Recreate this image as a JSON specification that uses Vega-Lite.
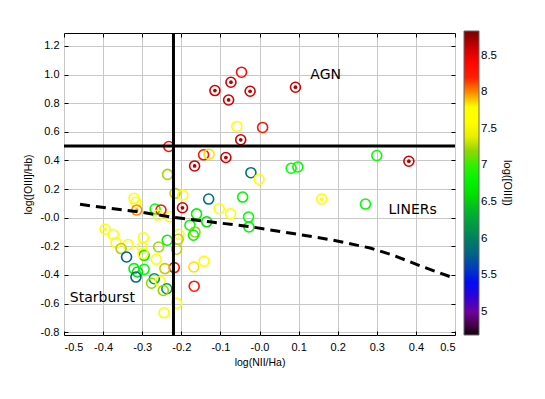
{
  "$schema": "https://vega.github.io/schema/vega-lite/v6.json",
  "width": 391,
  "height": 302,
  "autosize": "none",
  "padding": {"left": 64, "top": 33, "right": 90, "bottom": 64},
  "background": "white",
  "config": {
    "view": {"stroke": "black", "strokeWidth": 1},
    "axis": {
      "labelFont": "Liberation Sans",
      "labelFontSize": 11,
      "labelColor": "black",
      "titleFont": "Liberation Sans",
      "titleFontSize": 10.5,
      "titleFontWeight": "normal",
      "titleColor": "black",
      "gridColor": "#c8c8c8",
      "gridWidth": 1,
      "gridOpacity": 1,
      "tickColor": "black",
      "domain": false
    }
  },
  "datasets": {
    "pts": [
      {"x": -0.046, "y": 1.016, "o3": 8.35, "dot": false},
      {"x": -0.073, "y": 0.946, "o3": 8.6, "dot": true},
      {"x": -0.114, "y": 0.888, "o3": 8.6, "dot": true},
      {"x": -0.024, "y": 0.883, "o3": 8.6, "dot": true},
      {"x": -0.079, "y": 0.822, "o3": 8.6, "dot": true},
      {"x": 0.092, "y": 0.911, "o3": 8.6, "dot": true},
      {"x": -0.058, "y": 0.637, "o3": 7.6, "dot": false},
      {"x": 0.008, "y": 0.63, "o3": 8.3, "dot": false},
      {"x": -0.048, "y": 0.544, "o3": 8.6, "dot": true},
      {"x": -0.232, "y": 0.497, "o3": 8.35, "dot": false},
      {"x": -0.143, "y": 0.439, "o3": 8.3, "dot": false},
      {"x": -0.129, "y": 0.443, "o3": 7.85, "dot": false},
      {"x": -0.086, "y": 0.42, "o3": 8.6, "dot": true},
      {"x": -0.166, "y": 0.361, "o3": 8.6, "dot": true},
      {"x": -0.235, "y": 0.302, "o3": 7.25, "dot": false},
      {"x": -0.022, "y": 0.314, "o3": 5.9, "dot": false},
      {"x": -0.001, "y": 0.268, "o3": 7.6, "dot": false},
      {"x": 0.081, "y": 0.345, "o3": 6.9, "dot": false},
      {"x": 0.098, "y": 0.354, "o3": 6.9, "dot": false},
      {"x": -0.216, "y": 0.17, "o3": 7.3, "dot": false},
      {"x": -0.196, "y": 0.158, "o3": 7.6, "dot": false},
      {"x": -0.13, "y": 0.13, "o3": 5.9, "dot": false},
      {"x": -0.043, "y": 0.144, "o3": 6.8, "dot": false},
      {"x": -0.103, "y": 0.062, "o3": 7.6, "dot": false},
      {"x": -0.074, "y": 0.026, "o3": 7.6, "dot": false},
      {"x": -0.197, "y": 0.069, "o3": 8.6, "dot": true},
      {"x": -0.161, "y": 0.026, "o3": 6.8, "dot": false},
      {"x": -0.028, "y": 0.004, "o3": 6.9, "dot": false},
      {"x": -0.027, "y": -0.065, "o3": 6.8, "dot": false},
      {"x": -0.135, "y": -0.029, "o3": 6.6, "dot": false},
      {"x": -0.178, "y": -0.053, "o3": 6.9, "dot": false},
      {"x": -0.165, "y": -0.1, "o3": 7.2, "dot": false},
      {"x": -0.229, "y": 0.006, "o3": 7.6, "dot": false},
      {"x": -0.206, "y": -0.116, "o3": 7.6, "dot": false},
      {"x": -0.208, "y": -0.151, "o3": 7.3, "dot": false},
      {"x": -0.321, "y": 0.135, "o3": 7.65, "dot": false},
      {"x": -0.316, "y": 0.107, "o3": 7.6, "dot": false},
      {"x": -0.314, "y": 0.053, "o3": 8.0, "dot": true},
      {"x": -0.267, "y": 0.06, "o3": 6.9, "dot": false},
      {"x": -0.252, "y": 0.053, "o3": 8.3, "dot": false},
      {"x": -0.26, "y": 0.018, "o3": 7.6, "dot": false},
      {"x": -0.395, "y": -0.081, "o3": 7.6, "dot": true},
      {"x": -0.374, "y": -0.118, "o3": 7.6, "dot": false},
      {"x": -0.367, "y": -0.174, "o3": 7.6, "dot": false},
      {"x": -0.336, "y": -0.188, "o3": 7.6, "dot": false},
      {"x": -0.354, "y": -0.216, "o3": 7.3, "dot": false},
      {"x": -0.297, "y": -0.139, "o3": 7.6, "dot": false},
      {"x": -0.3, "y": -0.205, "o3": 7.6, "dot": false},
      {"x": -0.258, "y": -0.205, "o3": 7.25, "dot": false},
      {"x": -0.236, "y": -0.158, "o3": 6.8, "dot": false},
      {"x": -0.34, "y": -0.275, "o3": 5.75, "dot": false},
      {"x": -0.295, "y": -0.263, "o3": 6.7, "dot": false},
      {"x": -0.264, "y": -0.291, "o3": 7.6, "dot": false},
      {"x": -0.321, "y": -0.356, "o3": 6.8, "dot": false},
      {"x": -0.312, "y": -0.38, "o3": 6.6, "dot": false},
      {"x": -0.295, "y": -0.361, "o3": 6.9, "dot": false},
      {"x": -0.316, "y": -0.415, "o3": 5.9, "dot": false},
      {"x": -0.269, "y": -0.427, "o3": 6.2, "dot": false},
      {"x": -0.276, "y": -0.458, "o3": 7.2, "dot": false},
      {"x": -0.254, "y": -0.446, "o3": 7.6, "dot": false},
      {"x": -0.237, "y": -0.497, "o3": 6.2, "dot": false},
      {"x": -0.246, "y": -0.509, "o3": 7.2, "dot": false},
      {"x": -0.244, "y": -0.665, "o3": 7.6, "dot": false},
      {"x": -0.218, "y": -0.349, "o3": 8.35, "dot": false},
      {"x": -0.212, "y": -0.598, "o3": 7.6, "dot": false},
      {"x": -0.212, "y": -0.221, "o3": 7.3, "dot": false},
      {"x": -0.168, "y": -0.345, "o3": 7.85, "dot": false},
      {"x": -0.142, "y": -0.305, "o3": 7.6, "dot": false},
      {"x": -0.167, "y": -0.479, "o3": 8.3, "dot": false},
      {"x": -0.242, "y": -0.356, "o3": 7.3, "dot": false},
      {"x": 0.159, "y": 0.13, "o3": 7.6, "dot": true},
      {"x": 0.271, "y": 0.095, "o3": 6.9, "dot": false},
      {"x": 0.3, "y": 0.434, "o3": 6.9, "dot": false},
      {"x": 0.382, "y": 0.394, "o3": 8.6, "dot": true},
      {"x": -0.169, "y": -0.123, "o3": 6.8, "dot": false},
      {"x": -0.298, "y": -0.25, "o3": 7.6, "dot": false}
    ],
    "curve": [
      {"x": -0.459, "y": 0.093},
      {"x": -0.382, "y": 0.065},
      {"x": -0.31, "y": 0.041},
      {"x": -0.229, "y": 0.006},
      {"x": -0.127, "y": -0.029},
      {"x": -0.02, "y": -0.065},
      {"x": 0.086, "y": -0.111},
      {"x": 0.18, "y": -0.153},
      {"x": 0.283, "y": -0.212},
      {"x": 0.342, "y": -0.263},
      {"x": 0.419, "y": -0.345},
      {"x": 0.5, "y": -0.425}
    ],
    "vline": [{"x": -0.22}],
    "hline": [{"y": 0.5}],
    "labels": [
      {"label": "AGN", "x": 0.13, "y": 1.0},
      {"label": "LINERs", "x": 0.33, "y": 0.053},
      {"label": "Starburst", "x": -0.485, "y": -0.558}
    ]
  },
  "layer": [
    {
      "data": {"name": "pts"},
      "mark": {"type": "point", "shape": "circle", "filled": false, "size": 100, "strokeWidth": 1.6, "opacity": 1},
      "encoding": {
        "x": {
          "field": "x", "type": "quantitative",
          "scale": {"domain": [-0.5, 0.5], "nice": false, "zero": false},
          "axis": {
            "title": "log(NII/Ha)",
            "values": [-0.5, -0.4, -0.3, -0.2, -0.1, 0, 0.1, 0.2, 0.3, 0.4, 0.5],
            "labelExpr": "(datum.value < 1e-9 ? '-' : '') + format(abs(datum.value), '.1f')",
            "tickSize": -4,
            "labelPadding": 10,
            "titlePadding": 5,
            "grid": true
          }
        },
        "y": {
          "field": "y", "type": "quantitative",
          "scale": {"domain": [-0.82, 1.29], "nice": false, "zero": false},
          "axis": {
            "title": "log([OIII]/Hb)",
            "values": [-0.8, -0.6, -0.4, -0.2, 0, 0.2, 0.4, 0.6, 0.8, 1.0, 1.2],
            "labelExpr": "(datum.value < 1e-9 ? '-' : '') + format(abs(datum.value), '.1f')",
            "tickSize": -4,
            "labelPadding": 9,
            "titlePadding": 7,
            "grid": true
          }
        },
        "color": {
          "field": "o3", "type": "quantitative",
          "scale": {
            "type": "linear",
            "domain": [4.68, 4.8, 4.95, 5.1, 5.35, 5.5, 5.7, 5.9, 6.1, 6.35, 6.6, 6.9, 7.1, 7.3, 7.45, 7.8, 7.9, 8.05, 8.2, 8.45, 8.6, 8.84],
            "range": ["#100010", "#400040", "#800090", "#5000c0", "#0000ff", "#0020e0", "#005a9a", "#007070", "#009050", "#00b030", "#00e000", "#00ff00", "#60e000", "#c0d000", "#ffff00", "#ffff00", "#ffc000", "#ff7000", "#ff2000", "#ff0000", "#d00000", "#7a0000"],
            "interpolate": "rgb"
          },
          "legend": {
            "type": "gradient",
            "orient": "none",
            "legendX": 400,
            "legendY": -2,
            "direction": "vertical",
            "gradientLength": 304,
            "gradientThickness": 15,
            "gradientStrokeColor": "#666666",
            "gradientStrokeWidth": 1,
            "values": [5, 5.5, 6, 6.5, 7, 7.5, 8, 8.5],
            "labelExpr": "'' + datum.value",
            "labelFont": "Liberation Sans",
            "labelFontSize": 11.5,
            "labelColor": "black",
            "labelOverlap": false,
            "title": "log([OIII])",
            "titleOrient": "right",
            "titleAngle": 90,
            "titleAnchor": "middle",
            "titleBaseline": "middle",
            "titleFont": "Liberation Sans",
            "titleFontSize": 11,
            "titleFontWeight": "normal",
            "titleColor": "black",
            "titlePadding": 10
          }
        }
      }
    },
    {
      "data": {"name": "pts"},
      "transform": [{"filter": "datum.dot"}],
      "mark": {"type": "point", "shape": "circle", "filled": true, "size": 14, "opacity": 1},
      "encoding": {
        "x": {"field": "x", "type": "quantitative", "axis": null},
        "y": {"field": "y", "type": "quantitative", "axis": null},
        "fill": {
          "field": "o3", "type": "quantitative", "legend": null,
          "scale": {
            "domain": [4.679, 4.8, 4.95, 5.1, 5.35, 5.5, 5.7, 5.9, 6.1, 6.35, 6.6, 6.9, 7.1, 7.3, 7.45, 7.8, 7.9, 8.05, 8.2, 8.45, 8.6, 8.841],
            "range": ["#100010", "#400040", "#800090", "#5000c0", "#0000ff", "#0020e0", "#005a9a", "#007070", "#009050", "#00b030", "#00e000", "#00ff00", "#60e000", "#c0d000", "#ffff00", "#ffff00", "#ffc000", "#ff7000", "#ff2000", "#ff0000", "#b00000", "#7a0000"],
            "interpolate": "rgb"
          }
        }
      }
    },
    {
      "data": {"name": "vline"},
      "mark": {"type": "rule", "color": "black", "strokeWidth": 3},
      "encoding": {"x": {"field": "x", "type": "quantitative", "axis": null}}
    },
    {
      "data": {"name": "hline"},
      "mark": {"type": "rule", "color": "black", "strokeWidth": 3},
      "encoding": {"y": {"field": "y", "type": "quantitative", "axis": null}}
    },
    {
      "data": {"name": "curve"},
      "mark": {"type": "line", "color": "black", "strokeWidth": 3, "strokeDash": [10, 6]},
      "encoding": {
        "x": {"field": "x", "type": "quantitative", "axis": null},
        "y": {"field": "y", "type": "quantitative", "axis": null}
      }
    },
    {
      "data": {"name": "labels"},
      "mark": {"type": "text", "align": "left", "baseline": "middle", "font": "DejaVu Sans", "fontSize": 14, "color": "black"},
      "encoding": {
        "x": {"field": "x", "type": "quantitative", "axis": null},
        "y": {"field": "y", "type": "quantitative", "axis": null},
        "text": {"field": "label"}
      }
    },
    {
      "data": {"name": "labels"},
      "mark": {"type": "point", "opacity": 0},
      "encoding": {
        "x": {"field": "x", "type": "quantitative",
          "axis": {"orient": "top", "labels": false, "title": null, "grid": false, "tickSize": -4,
            "values": [-0.5, -0.4, -0.3, -0.2, -0.1, 0, 0.1, 0.2, 0.3, 0.4, 0.5]}},
        "y": {"field": "y", "type": "quantitative",
          "axis": {"orient": "right", "labels": false, "title": null, "grid": false, "tickSize": -4,
            "values": [-0.8, -0.6, -0.4, -0.2, 0, 0.2, 0.4, 0.6, 0.8, 1.0, 1.2]}}
      }
    }
  ],
  "resolve": {"axis": {"x": "independent", "y": "independent"}}
}
